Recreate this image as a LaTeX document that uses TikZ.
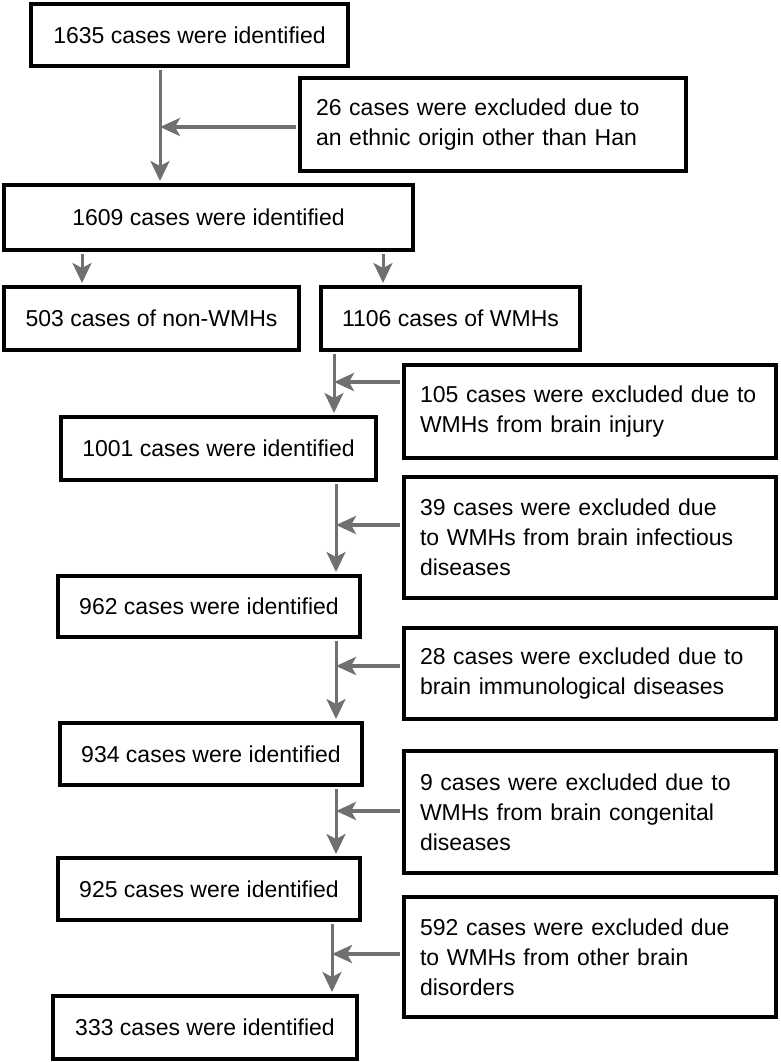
\documentclass[tikz,border=0pt]{standalone}
\usepackage{fontspec}
\setmainfont{Liberation Sans}
\usetikzlibrary{arrows.meta}
\definecolor{flowgray}{RGB}{112,112,112}

\begin{document}
\begin{tikzpicture}[x=1pt, y=-1pt, font=\fontsize{23}{30}\selectfont,
box/.style ={draw, line width=4pt, inner sep=0pt, align=center},
note/.style ={draw, line width=4pt, inner xsep=16pt, inner ysep=0pt, align=left, text width=#1},
flow/.style ={draw=flowgray, line width=3pt, shorten <=2pt, shorten >=2pt, -{Stealth[length=20pt, width=19pt, inset=5pt]}},
side/.style ={draw=flowgray, line width=4.5pt, shorten <=2pt, -{Stealth[length=20pt, width=18pt, inset=5pt]}}]
\useasboundingbox (0,0) rectangle (780,1062);

\node[box, minimum width=317pt, minimum height=62pt] (n1635) at (189.5,35) {1635 cases were identified};
\node[note=354pt, minimum width=386pt, minimum height=93pt] (x26) at (493,124.5) {26 cases were excluded due to\\an ethnic origin other than Han};
\node[box, minimum width=409pt, minimum height=65pt] (n1609) at (208.5,217.5) {1609 cases were identified};
\node[box, minimum width=295pt, minimum height=63pt] (n503) at (151.5,318.5) {503 cases of non-WMHs};
\node[box, minimum width=259pt, minimum height=63pt] (n1106) at (450.5,318.5) {1106 cases of WMHs};
\node[note=340pt, minimum width=372pt, minimum height=93pt] (x105) at (590,411.5) {105 cases were excluded due to\\WMHs from brain injury};
\node[box, minimum width=315pt, minimum height=63pt] (n1001) at (218.5,448.5) {1001 cases were identified};
\node[note=340pt, minimum width=372pt, minimum height=121pt] (x39) at (590,537.5) {39 cases were excluded due\\to WMHs from brain infectious\\diseases};
\node[box, minimum width=302pt, minimum height=61pt] (n962) at (209,606.5) {962 cases were identified};
\node[note=340pt, minimum width=372pt, minimum height=91pt] (x28) at (590,673.5) {28 cases were excluded due to\\brain immunological diseases};
\node[box, minimum width=302pt, minimum height=62pt] (n934) at (211,754) {934 cases were identified};
\node[note=340pt, minimum width=372pt, minimum height=122pt] (x9) at (590,812) {9 cases were excluded due to\\WMHs from brain congenital\\diseases};
\node[box, minimum width=302pt, minimum height=62pt] (n925) at (209,889) {925 cases were identified};
\node[note=340pt, minimum width=372pt, minimum height=120pt] (x592) at (590,957) {592 cases were excluded due\\to WMHs from other brain\\disorders};
\node[box, minimum width=304pt, minimum height=63pt] (n333) at (205,1027.5) {333 cases were identified};

% junctions on the main line
\coordinate (j1) at (160,127);
\coordinate (j2) at (334,382);
\coordinate (j3) at (336,525);
\coordinate (j4) at (336,666);
\coordinate (j5) at (336,811);
\coordinate (j6) at (332,954);
\coordinate (k1) at (82,0);
\coordinate (k2) at (383,0);

\draw[flow] (n1635.south -| j1) -- (n1609.north -| j1);
\draw[side] (x26.west |- j1) -- (j1);
\draw[flow] (n1609.south -| k1) -- (n503.north -| k1);
\draw[flow] (n1609.south -| k2) -- (n1106.north -| k2);
\draw[flow] (n1106.south -| j2) -- (n1001.north -| j2);
\draw[side] (x105.west |- j2) -- (j2);
\draw[flow] (n1001.south -| j3) -- (n962.north -| j3);
\draw[side] (x39.west |- j3) -- (j3);
\draw[flow] (n962.south -| j4) -- (n934.north -| j4);
\draw[side] (x28.west |- j4) -- (j4);
\draw[flow] (n934.south -| j5) -- (n925.north -| j5);
\draw[side] (x9.west |- j5) -- (j5);
\draw[flow] (n925.south -| j6) -- (n333.north -| j6);
\draw[side] (x592.west |- j6) -- (j6);
\end{tikzpicture}
\end{document}
